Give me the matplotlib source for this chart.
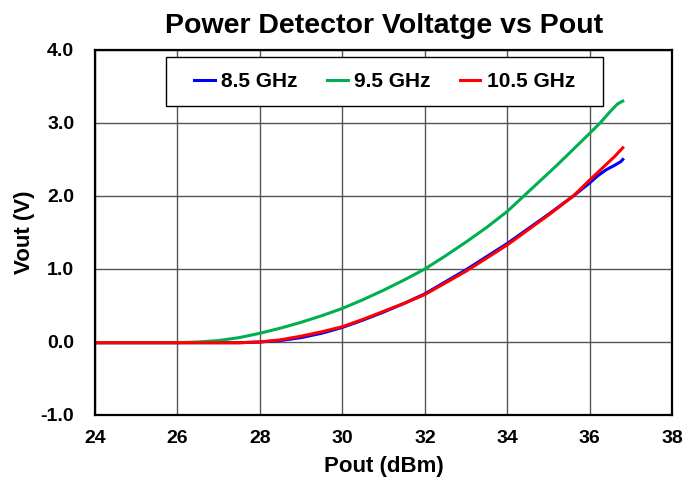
import numpy as np
import matplotlib
matplotlib.use("Agg")
import matplotlib.pyplot as plt
from matplotlib.patches import Rectangle

plt.rcParams['font.family'] = ['Liberation Sans', 'DejaVu Sans']
plt.rcParams['font.weight'] = 'bold'

# 8.5 GHz
pout_85 = [24.0, 26.0, 27.5, 28.0, 28.5, 29.0, 29.5, 30.0, 30.5, 31.0, 31.5, 32.0, 33.0, 34.0, 35.0, 35.6, 36.0, 36.2, 36.4, 36.6, 36.75, 36.8]
vout_85 = [-0.01, -0.01, -0.01, 0.0, 0.02, 0.06, 0.12, 0.2, 0.3, 0.41, 0.53, 0.66, 0.99, 1.35, 1.75, 2.0, 2.18, 2.28, 2.36, 2.42, 2.47, 2.5]
# 9.5 GHz
pout_95 = [24.0, 26.0, 26.5, 27.0, 27.5, 28.0, 28.5, 29.0, 29.5, 30.0, 30.5, 31.0, 31.5, 32.0, 32.5, 33.0, 33.5, 34.0, 34.4, 34.8, 35.2, 35.6, 36.0, 36.25, 36.5, 36.67, 36.8]
vout_95 = [-0.01, -0.01, 0.0, 0.02, 0.06, 0.12, 0.19, 0.27, 0.36, 0.46, 0.58, 0.71, 0.85, 1.0, 1.18, 1.37, 1.57, 1.79, 2.0, 2.21, 2.42, 2.64, 2.86, 3.0, 3.16, 3.26, 3.3]
# 10.5 GHz
pout_105 = [24.0, 26.0, 27.5, 28.0, 28.5, 29.0, 29.5, 30.0, 30.5, 31.0, 31.5, 32.0, 33.0, 34.0, 35.0, 35.6, 36.0, 36.3, 36.6, 36.8]
vout_105 = [-0.01, -0.01, -0.01, 0.0, 0.03, 0.08, 0.14, 0.21, 0.31, 0.42, 0.53, 0.65, 0.97, 1.33, 1.74, 2.0, 2.22, 2.38, 2.54, 2.66]

fig = plt.figure(figsize=(6.86, 4.88), dpi=100)
ax = fig.add_axes([0.1385, 0.1496, 0.8415, 0.748])

ax.plot(pout_85, vout_85, color='#0000FF', lw=2.2, label='8.5 GHz')
ax.plot(pout_95, vout_95, color='#00B050', lw=2.2, label='9.5 GHz')
ax.plot(pout_105, vout_105, color='#FF0000', lw=2.2, label='10.5 GHz')

ax.set_xlim(24, 38)
ax.set_ylim(-1.0, 4.0)
ax.set_xticks(np.arange(24, 39, 2))
ax.set_yticks(np.arange(-1.0, 4.1, 1.0))
ax.set_yticklabels(['%.1f' % v for v in np.arange(-1.0, 4.1, 1.0)])
ax.grid(True, color='#555555', lw=1.0)
ax.set_axisbelow(True)
for s in ax.spines.values():
    s.set_color('black')
    s.set_linewidth(1.6)
ax.tick_params(labelsize=14, length=0)
ax.tick_params(axis='x', pad=11)
ax.tick_params(axis='y', pad=15)
for lab in ax.get_xticklabels() + ax.get_yticklabels():
    lab.set_fontweight('bold')

ax.set_xlabel('Pout (dBm)', fontsize=16, fontweight='bold', labelpad=6)
ax.set_ylabel('Vout (V)', fontsize=16, fontweight='bold', labelpad=4)
ax.set_title('Power Detector Voltatge vs Pout', fontsize=20.5, fontweight='bold', pad=12)

# legend box
ax.add_patch(Rectangle((0.123, 0.8466), 0.757, 0.1344, transform=ax.transAxes,
                       facecolor='white', edgecolor='black', lw=1.0, zorder=4))
leg = ax.legend(loc='center', bbox_to_anchor=(0.5015, 0.914), ncol=3, fontsize=15,
                frameon=False, handlelength=1.0, columnspacing=1.4,
                handletextpad=0.3, borderaxespad=0)
leg.set_zorder(5)
for t in leg.get_texts():
    t.set_fontweight('bold')

fig.savefig('out.png', dpi=100)
